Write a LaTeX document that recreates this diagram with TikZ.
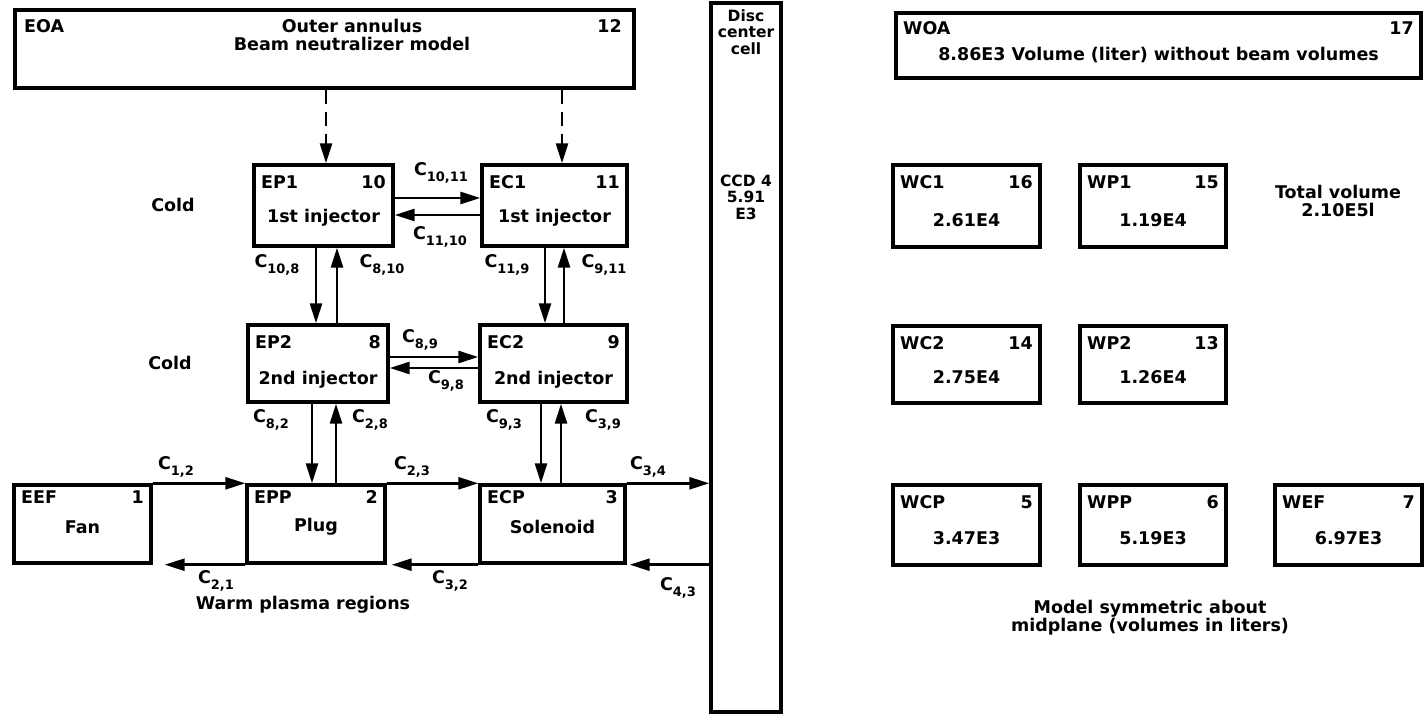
\documentclass[tikz,border=0pt]{standalone}
\usepackage{fontspec}
\setmainfont{DejaVu Sans}
\usetikzlibrary{arrows.meta}
\newcommand\Csub[1]{C\raisebox{-5.5pt}{\fontsize{13}{13}\selectfont #1}}
\tikzset{
  cell/.style={draw, line width=3.4pt, rectangle, inner sep=0pt},
  txt/.style={font=\fontsize{17.5}{18}\selectfont\bfseries, inner sep=0pt},
  dtxt/.style={font=\fontsize{15.5}{16.5}\selectfont\bfseries, inner sep=0pt, align=center},
  arr/.style={line width=2.6pt, -{Triangle[length=20pt,width=12pt]}},
  darr/.style={arr, dash pattern=on 14pt off 8pt},
}
\def\tldy{16}
\newcommand\cellbox[9]{%
  \node[cell, minimum width={(#4-#2)*1pt}, minimum height={(#5-#3)*1pt}] (#1) at ({(#2+#4)/2},{(#3+#5)/2}) {};
  \node[txt, anchor=west] (#1-id) at ({#2+7},{#3+\tldy}) {#6};
  \node[txt, anchor=east] (#1-no) at ({#4-7},{#3+\tldy}) {#7};
  \node[txt] (#1-tx) at ({(#2+#4)/2},#9) {#8};
}
\begin{document}
\begin{tikzpicture}[x=1pt,y=-1pt]
\useasboundingbox (0,0) rectangle (1426,719);

% Outer annulus
\node[cell, minimum width=619pt, minimum height=78pt] (EOA) at (324.5,49) {};
\node[txt, anchor=west] (EOA-id) at (24,26) {EOA};
\node[txt, anchor=east] (EOA-no) at (622,26) {12};
\node[txt, align=center] (EOA-tx) at (352,35) {Outer annulus\\Beam neutralizer model};

% Disc center cell
\node[cell, minimum width=70pt, minimum height=709pt] (disc) at (746,357.5) {};
\node[dtxt] (disc-t) at (746,32) {Disc\\center\\cell};
\node[dtxt] (disc-v) at (746,197) {CCD 4\\5.91\\E3};

\def\tldy{17}
\cellbox{EP1}{254}{165}{393}{246}{EP1}{10}{1st injector}{218}
\cellbox{EC1}{482}{165}{627}{246}{EC1}{11}{1st injector}{218}
\cellbox{EP2}{248}{325}{388}{402}{EP2}{8}{2nd injector}{380}
\cellbox{EC2}{480}{325}{627}{402}{EC2}{9}{2nd injector}{380}
\def\tldy{12}
\cellbox{EEF}{14}{485}{151}{563}{EEF}{1}{Fan}{527}
\cellbox{EPP}{247}{485}{385}{563}{EPP}{2}{Plug}{527}
\cellbox{ECP}{480}{485}{625}{563}{ECP}{3}{Solenoid}{527}
\def\tldy{15}
\cellbox{WOA}{896}{13}{1421}{78}{WOA}{17}{8.86E3 Volume (liter) without beam volumes}{55}
\def\tldy{17}
\cellbox{WC1}{893}{165}{1040}{247}{WC1}{16}{2.61E4}{220}
\cellbox{WP1}{1080}{165}{1226}{247}{WP1}{15}{1.19E4}{220}
\cellbox{WC2}{893}{326}{1040}{403}{WC2}{14}{2.75E4}{377}
\cellbox{WP2}{1080}{326}{1226}{403}{WP2}{13}{1.26E4}{377}
\cellbox{WCP}{893}{485}{1040}{565}{WCP}{5}{3.47E3}{538}
\cellbox{WPP}{1080}{485}{1226}{565}{WPP}{6}{5.19E3}{538}
\cellbox{WEF}{1275}{485}{1422}{565}{WEF}{7}{6.97E3}{538}

% free labels
\node[txt] (cold1) at (173,205) {Cold};
\node[txt] (cold2) at (170,363) {Cold};
\node[txt] (warm) at (303,605) {Warm plasma regions};
\node[txt, align=center] (total) at (1338,201) {Total volume\\2.10E5l};
\node[txt, align=center] (model) at (1150,618) {Model symmetric about\\midplane (volumes in liters)};

% dashed arrows from outer annulus
\draw[darr] (EOA.south -| 326,0) -- (EP1.north -| 326,0);
\draw[darr] (EOA.south -| 562,0) -- (EC1.north -| 562,0);

% row 1 horizontal
\draw[arr] (EP1.east |- 0,198) -- (EC1.west |- 0,198);
\draw[arr] (EC1.west |- 0,215) -- (EP1.east |- 0,215);
\node[txt] (c1011) at (441,173) {\Csub{10,11}};
\node[txt] (c1110) at (440,237) {\Csub{11,10}};

% row 2 horizontal
\draw[arr] (EP2.east |- 0,357) -- (EC2.west |- 0,357);
\draw[arr] (EC2.west |- 0,368) -- (EP2.east |- 0,368);
\node[txt] (c89) at (420,340) {\Csub{8,9}};
\node[txt] (c98) at (446,381) {\Csub{9,8}};

% verticals row1-row2
\draw[arr] (EP1.south -| 316,0) -- (EP2.north -| 316,0);
\draw[arr] (EP2.north -| 337,0) -- (EP1.south -| 337,0);
\draw[arr] (EC1.south -| 545,0) -- (EC2.north -| 545,0);
\draw[arr] (EC2.north -| 564,0) -- (EC1.south -| 564,0);
\node[txt] (c108) at (277,265) {\Csub{10,8}};
\node[txt] (c810) at (382,265) {\Csub{8,10}};
\node[txt] (c119) at (507,265) {\Csub{11,9}};
\node[txt] (c911) at (604,265) {\Csub{9,11}};

% verticals row2-row3
\draw[arr] (EP2.south -| 312,0) -- (EPP.north -| 312,0);
\draw[arr] (EPP.north -| 336,0) -- (EP2.south -| 336,0);
\draw[arr] (EC2.south -| 541,0) -- (ECP.north -| 541,0);
\draw[arr] (ECP.north -| 561,0) -- (EC2.south -| 561,0);
\node[txt] (c82) at (271,420) {\Csub{8,2}};
\node[txt] (c28) at (370,420) {\Csub{2,8}};
\node[txt] (c93) at (504,420) {\Csub{9,3}};
\node[txt] (c39) at (603,420) {\Csub{3,9}};

% bottom row
\draw[arr] (EEF.north east) -- (EPP.north west);
\draw[arr] (EPP.north east) -- (ECP.north west);
\draw[arr] (ECP.north east) -- (disc.west |- ECP.north);
\draw[arr] (EPP.south west) -- ([shift={(12,0)}]EEF.south east);
\draw[arr] (ECP.south west) -- ([shift={(5,0)}]EPP.south east);
\draw[arr] (disc.west |- ECP.south) -- ([shift={(3,0)}]ECP.south east);
\node[txt] (c12) at (176,467) {\Csub{1,2}};
\node[txt] (c23) at (412,467) {\Csub{2,3}};
\node[txt] (c34) at (648,467) {\Csub{3,4}};
\node[txt] (c21) at (216,581) {\Csub{2,1}};
\node[txt] (c32) at (450,581) {\Csub{3,2}};
\node[txt] (c43) at (678,588) {\Csub{4,3}};
\end{tikzpicture}
\end{document}
